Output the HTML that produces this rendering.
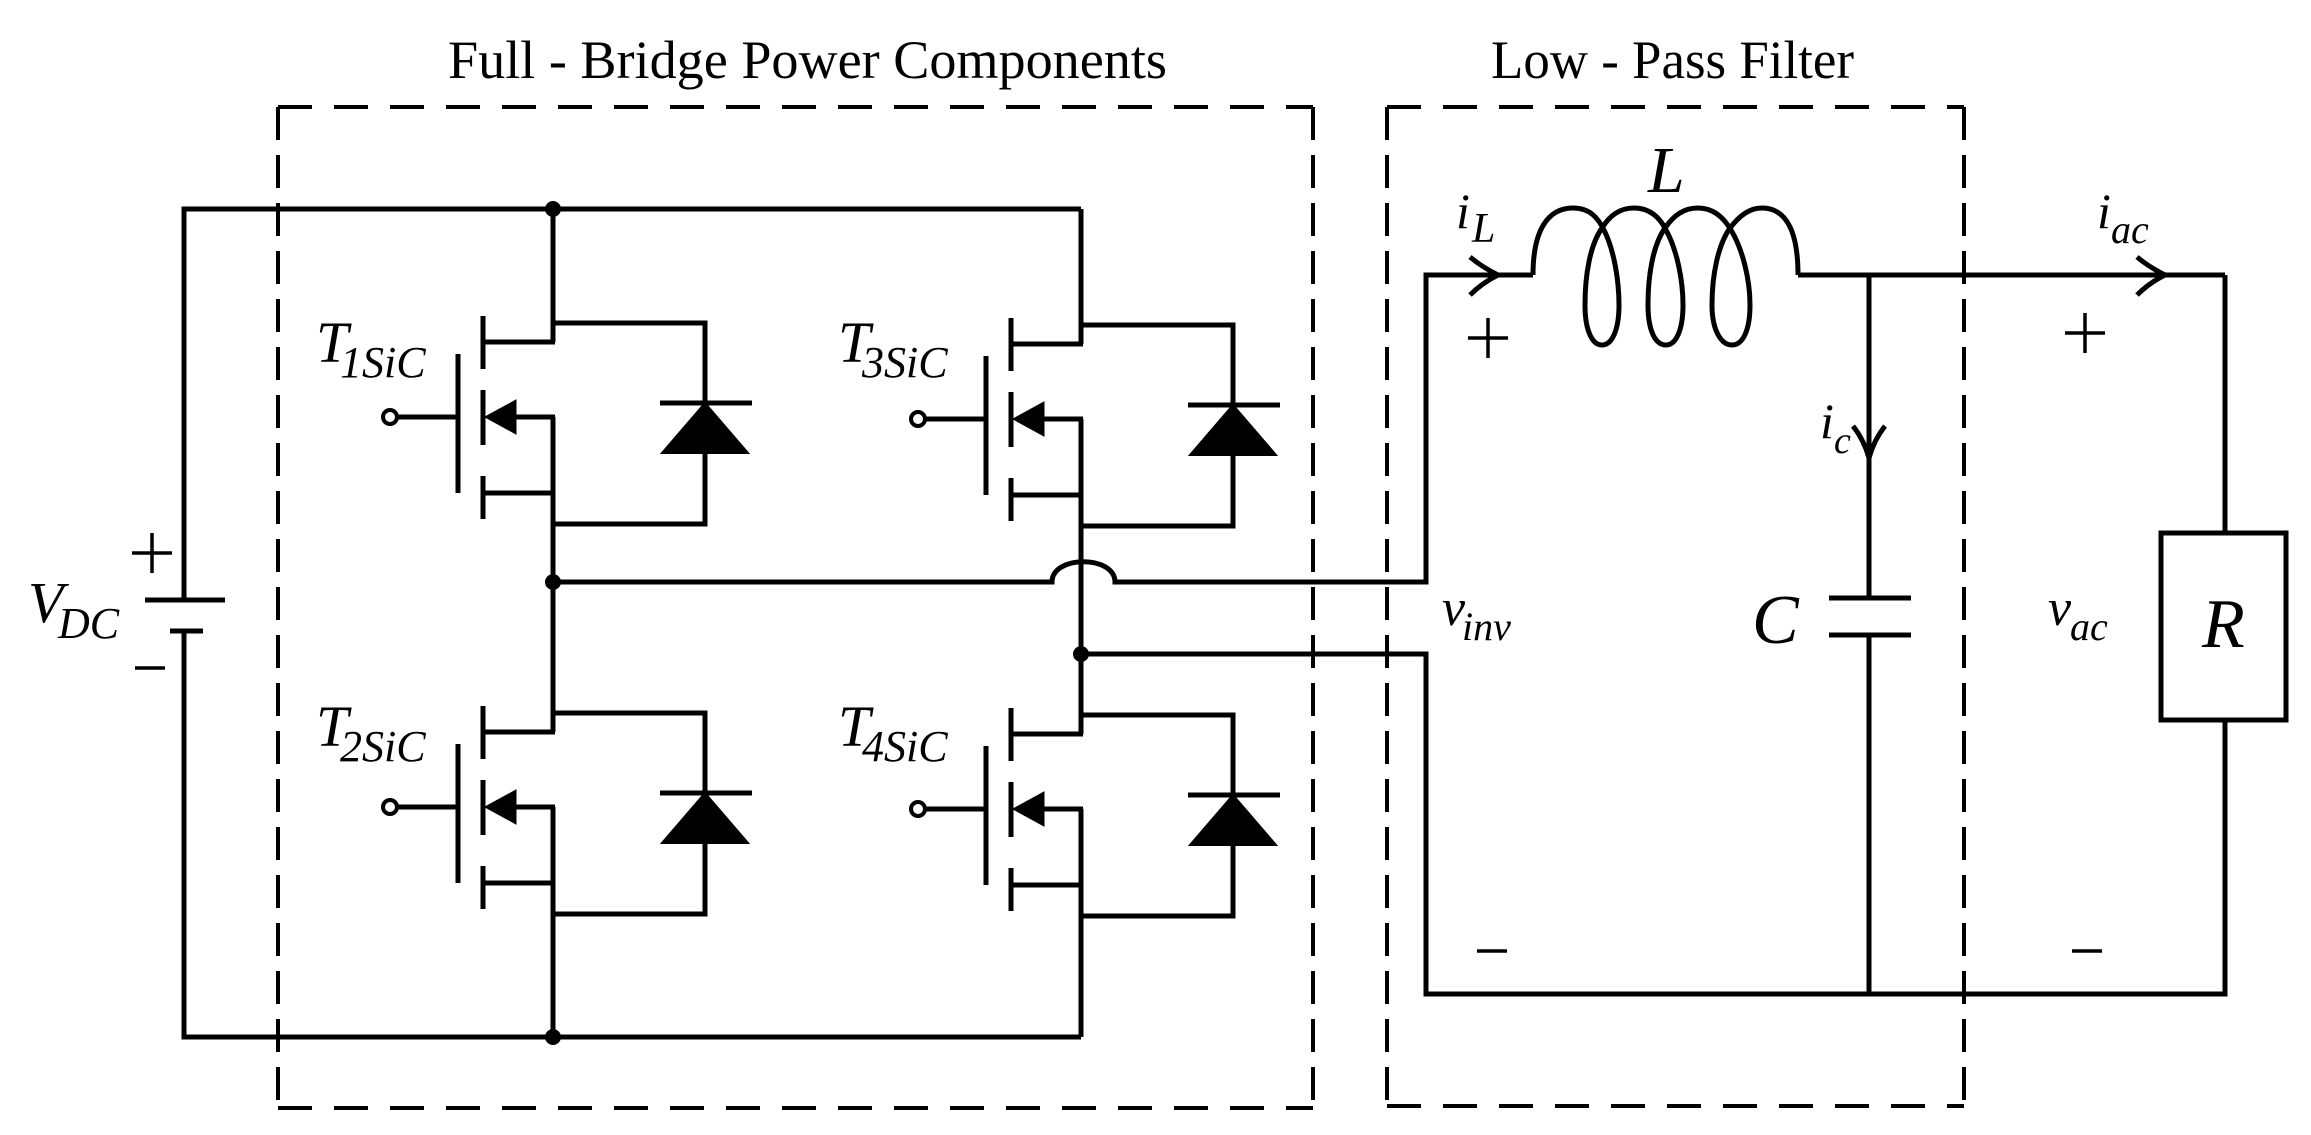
<!DOCTYPE html>
<html><head><meta charset="utf-8"><style>
html,body{margin:0;padding:0;background:#fff;}
svg{display:block;}
text{font-family:"Liberation Serif",serif;fill:#000;}
.i{font-style:italic;}
</style></head><body>
<svg width="2311" height="1135" viewBox="0 0 2311 1135" xmlns="http://www.w3.org/2000/svg">
<defs>
<g id="fet" stroke="#000" stroke-width="5" fill="none">
  <line x1="481" y1="342" x2="555" y2="342"/>
  <polyline points="553,323 705,323 705,403"/>
  <line x1="660" y1="403" x2="752" y2="403"/>
  <polygon points="705,403 662,453 748,453" fill="#000" stroke-width="2"/>
  <polyline points="705,453 705,524 553,524"/>
  <line x1="483" y1="316" x2="483" y2="369"/>
  <line x1="483" y1="390" x2="483" y2="445"/>
  <line x1="483" y1="476" x2="483" y2="519"/>
  <line x1="458" y1="354" x2="458" y2="493"/>
  <circle cx="390" cy="417" r="7" stroke-width="4"/>
  <line x1="397" y1="417" x2="458" y2="417"/>
  <polygon points="485,417 516,400 516,434" fill="#000" stroke-width="1"/>
  <line x1="516" y1="417" x2="555" y2="417"/>
  <line x1="481" y1="493" x2="555" y2="493"/>
</g>
</defs>

<text x="448" y="78" font-size="54" textLength="719" lengthAdjust="spacingAndGlyphs">Full - Bridge  Power Components</text>
<text x="1491" y="78" font-size="54" textLength="363" lengthAdjust="spacingAndGlyphs">Low - Pass Filter</text>

<g stroke="#000" stroke-width="4" fill="none">
  <line x1="278" y1="107" x2="1313" y2="107" stroke-dasharray="34 22"/>
  <line x1="278" y1="1108" x2="1313" y2="1108" stroke-dasharray="34 22"/>
  <line x1="278" y1="107" x2="278" y2="1108" stroke-dasharray="33 15"/>
  <line x1="1313" y1="107" x2="1313" y2="1108" stroke-dasharray="33 15"/>
  <line x1="1387" y1="107" x2="1964" y2="107" stroke-dasharray="34 22"/>
  <line x1="1387" y1="1106" x2="1964" y2="1106" stroke-dasharray="34 22"/>
  <line x1="1387" y1="107" x2="1387" y2="1106" stroke-dasharray="33 15"/>
  <line x1="1964" y1="107" x2="1964" y2="1106" stroke-dasharray="33 15"/>
</g>

<g stroke="#000" stroke-width="5" fill="none">
  <polyline points="184,600 184,209 1081,209"/>
  <polyline points="184,631 184,1037 1081,1037"/>
  <line x1="145" y1="600" x2="225" y2="600"/>
  <line x1="170" y1="631" x2="203" y2="631"/>
  <line x1="553" y1="209" x2="553" y2="342"/>
  <line x1="553" y1="417" x2="553" y2="732"/>
  <line x1="553" y1="807" x2="553" y2="1037"/>
  <line x1="1081" y1="209" x2="1081" y2="344"/>
  <line x1="1081" y1="419" x2="1081" y2="734"/>
  <line x1="1081" y1="809" x2="1081" y2="1037"/>
  <path d="M553 582 L1052 582 C1052 555 1115 555 1115 582 L1426 582 L1426 275 L1533 275"/>
  <path d="M1081 654 L1426 654 L1426 994 L2225 994 L2225 720"/>
  <line x1="1798" y1="275" x2="2225" y2="275"/>
  <line x1="2225" y1="275" x2="2225" y2="533"/>
  <rect x="2161" y="533" width="125" height="187"/>
  <line x1="1869" y1="275" x2="1869" y2="598"/>
  <line x1="1869" y1="635" x2="1869" y2="994"/>
  <line x1="1829" y1="598" x2="1911" y2="598"/>
  <line x1="1829" y1="635" x2="1911" y2="635"/>
  <path d="M1533 275 C1533 230 1548 208 1573 208 C1590 208 1598 218 1604 230 C1614 250 1619 280 1619 305 C1619 330 1612 345 1602 345 C1592 345 1585 330 1585 305 C1585 275 1590 245 1602 228 C1610 215 1620 208 1634 208
           C1650 208 1660 218 1666 230 C1677 250 1683 280 1683 305 C1683 330 1676 345 1666 345 C1655 345 1648 330 1648 305 C1648 275 1653 245 1665 228 C1674 215 1684 208 1698 208
           C1714 208 1724 218 1731 230 C1743 250 1750 280 1750 305 C1750 330 1743 345 1732 345 C1721 345 1712 330 1712 305 C1712 275 1718 245 1730 228 C1740 215 1750 208 1762 208
           C1788 208 1798 235 1798 275"/>
  <path d="M1470 257 Q1482 267 1498 275 Q1482 283 1470 295"/>
  <path d="M2137 257 Q2149 267 2165 275 Q2149 283 2137 295"/>
  <path d="M1853 426 Q1864 440 1869 458 Q1874 440 1885 426"/>
  <!-- plus / minus -->
  <g stroke-width="3.5">
    <line x1="132" y1="553" x2="172" y2="553"/><line x1="152" y1="533" x2="152" y2="573"/>
    <line x1="135" y1="668" x2="165" y2="668"/>
    <line x1="1468" y1="338" x2="1508" y2="338"/><line x1="1488" y1="318" x2="1488" y2="358"/>
    <line x1="2065" y1="333" x2="2105" y2="333"/><line x1="2085" y1="313" x2="2085" y2="353"/>
    <line x1="1477" y1="951" x2="1507" y2="951"/>
    <line x1="2072" y1="951" x2="2102" y2="951"/>
  </g>
</g>
<g fill="#000">
  <circle cx="553" cy="209" r="8"/>
  <circle cx="553" cy="582" r="8"/>
  <circle cx="553" cy="1037" r="8"/>
  <circle cx="1081" cy="654" r="8"/>
</g>

<use href="#fet"/>
<use href="#fet" transform="translate(528,2)"/>
<use href="#fet" transform="translate(0,390)"/>
<use href="#fet" transform="translate(528,392)"/>

<g font-size="58">
<text class="i" x="316" y="362">T</text><text class="i" x="340" y="377" font-size="44">1SiC</text>
<text class="i" x="838" y="362">T</text><text class="i" x="862" y="377" font-size="44">3SiC</text>
<text class="i" x="316" y="746">T</text><text class="i" x="340" y="761" font-size="44">2SiC</text>
<text class="i" x="838" y="746">T</text><text class="i" x="862" y="761" font-size="44">4SiC</text>
<text class="i" x="28" y="622">V</text><text class="i" x="58" y="638" font-size="44">DC</text>
<text class="i" x="1456" y="228" font-size="50">i</text><text class="i" x="1472" y="242" font-size="42">L</text>
<text class="i" x="1648" y="192" font-size="66">L</text>
<text class="i" x="2097" y="228" font-size="50">i</text><text class="i" x="2111" y="243" font-size="40">ac</text>
<text class="i" x="1820" y="438" font-size="50">i</text><text class="i" x="1834" y="453" font-size="38">c</text>
<text class="i" x="1752" y="643" font-size="70">C</text>
<text class="i" x="2202" y="647" font-size="70">R</text>
<text class="i" x="1442" y="625" font-size="52">v</text><text class="i" x="1462" y="640" font-size="40">inv</text>
<text class="i" x="2048" y="625" font-size="52">v</text><text class="i" x="2070" y="640" font-size="40">ac</text>
</g>
</svg>
</body></html>
